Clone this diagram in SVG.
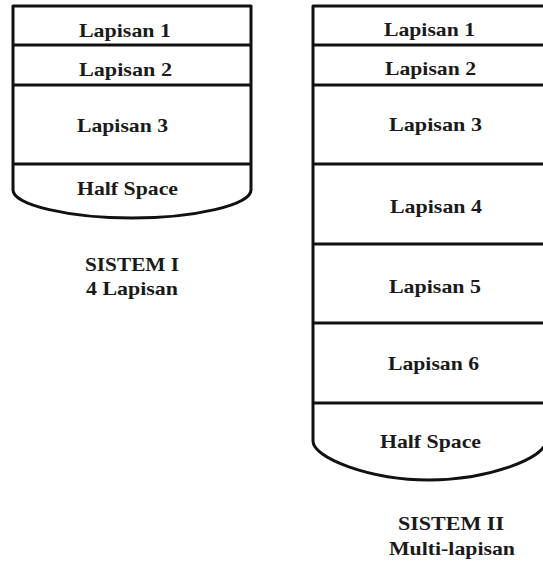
<svg xmlns="http://www.w3.org/2000/svg" width="543" height="563" viewBox="0 0 543 563">
<style>
.box{fill:#fff;stroke:#111;stroke-width:3;stroke-linejoin:round}
.sep{stroke:#111;stroke-width:3;fill:none}
text{font-family:"Liberation Serif","Times New Roman",serif;font-weight:bold;font-size:19px;fill:#1a1a1a}
</style>
<rect width="543" height="563" fill="#fff"/>
<g id="sistem1">
<path class="box" d="M13,190 V6 H251 V190 C251,205 194,218 132,218 C70,218 13,205 13,190 Z"/>
<g class="sep">
<line x1="13" y1="45" x2="251" y2="45"/>
<line x1="13" y1="85" x2="251" y2="85"/>
<line x1="13" y1="164" x2="251" y2="164"/>
</g>
<g id="s1-l1"><text x="79" y="36.5" textLength="92" lengthAdjust="spacingAndGlyphs">Lapisan 1</text></g>
<g id="s1-l2"><text x="79" y="76" textLength="93" lengthAdjust="spacingAndGlyphs">Lapisan 2</text></g>
<g id="s1-l3"><text x="77" y="132" textLength="91" lengthAdjust="spacingAndGlyphs">Lapisan 3</text></g>
<g id="s1-hs"><text x="77" y="195" textLength="101" lengthAdjust="spacingAndGlyphs">Half Space</text></g>
<g id="s1-label">
<text x="85" y="271" textLength="94" lengthAdjust="spacingAndGlyphs">SISTEM I</text>
<text x="86" y="295" textLength="92" lengthAdjust="spacingAndGlyphs">4 Lapisan</text>
</g>
</g>
<g id="sistem2">
<path class="box" d="M313,441 V6 H546 V441 C546,458 488,480 429,480 C370,480 313,458 313,441 Z"/>
<g class="sep">
<line x1="313" y1="45" x2="546" y2="45"/>
<line x1="313" y1="85" x2="546" y2="85"/>
<line x1="313" y1="164" x2="546" y2="164"/>
<line x1="313" y1="244" x2="546" y2="244"/>
<line x1="313" y1="323" x2="546" y2="323"/>
<line x1="313" y1="403" x2="546" y2="403"/>
</g>
<g id="s2-l1"><text x="384" y="36" textLength="91" lengthAdjust="spacingAndGlyphs">Lapisan 1</text></g>
<g id="s2-l2"><text x="385" y="75" textLength="91" lengthAdjust="spacingAndGlyphs">Lapisan 2</text></g>
<g id="s2-l3"><text x="389" y="131" textLength="93" lengthAdjust="spacingAndGlyphs">Lapisan 3</text></g>
<g id="s2-l4"><text x="390" y="213" textLength="92" lengthAdjust="spacingAndGlyphs">Lapisan 4</text></g>
<g id="s2-l5"><text x="389" y="293" textLength="92" lengthAdjust="spacingAndGlyphs">Lapisan 5</text></g>
<g id="s2-l6"><text x="388" y="370" textLength="91" lengthAdjust="spacingAndGlyphs">Lapisan 6</text></g>
<g id="s2-hs"><text x="380" y="448" textLength="101" lengthAdjust="spacingAndGlyphs">Half Space</text></g>
<g id="s2-label">
<text x="398" y="530" textLength="106" lengthAdjust="spacingAndGlyphs">SISTEM II</text>
<text x="389" y="555" textLength="126" lengthAdjust="spacingAndGlyphs">Multi-lapisan</text>
</g>
</g>
</svg>
